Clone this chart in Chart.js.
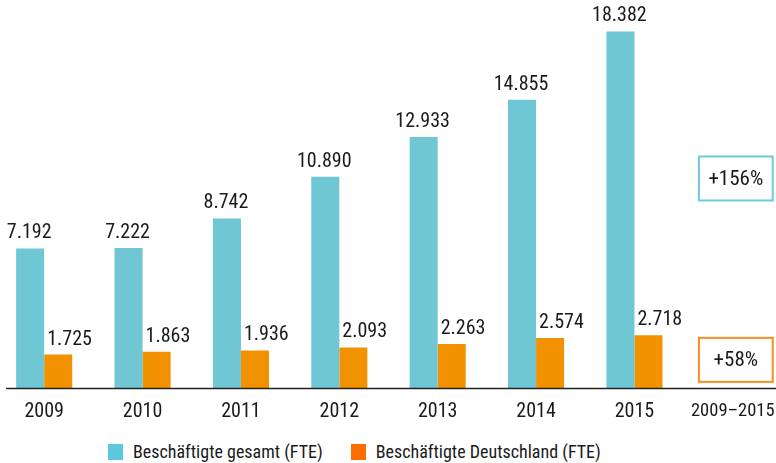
<!DOCTYPE html>
<html>
<head>
<meta charset="utf-8">
<script src="https://cdn.jsdelivr.net/npm/chart.js@4.4.1/dist/chart.umd.min.js"></script>
<style>
  html, body { margin: 0; padding: 0; background: #fff; overflow: hidden; }
  body { width: 776px; height: 463px; position: relative; font-family: "Roboto Condensed", sans-serif; }
  #chart { position: absolute; left: -5px; top: 0; }
  #legend { position: absolute; left: 108px; top: 441px; display: flex; flex-direction: row; margin: 0; padding: 0; list-style: none; }
</style>
</head>
<body>
<canvas id="chart" width="787" height="428"></canvas>
<ul id="legend"></ul>
<script>
const FONT = '"Roboto Condensed", sans-serif';

// data
const years = ['2009', '2010', '2011', '2012', '2013', '2014', '2015', '2009\u20132015'];
const gesamt = [7192, 7222, 8742, 10890, 12933, 14855, 18382, null];
const deutschland = [1725, 1863, 1936, 2093, 2263, 2574, 2718, null];
const seriesNames = ['Besch\u00e4ftigte gesamt (FTE)', 'Besch\u00e4ftigte Deutschland (FTE)'];
const growthLabels = ['+156%', '+58%'];

const teal = '#6ec7d3';
const orange = '#f39200';
const legendColours = ['#5cc8dc', '#ff6c00'];
const boxColours = ['#6acbdc', '#f7901e'];

function fmt(v) {
    return v.toLocaleString('de-DE');
}

// value labels above bars + growth boxes + baseline
const extras = {
    id: 'extras',
    afterDatasetsDraw(chart) {
        const ctx = chart.ctx;
        const x = chart.scales.x;
        const y = chart.scales.y;
        ctx.save();
        ctx.font = '20px ' + FONT;
        ctx.fillStyle = '#1a1a1a';
        ctx.textBaseline = 'bottom';
        chart.data.datasets.forEach((ds, di) => {
            chart.getDatasetMeta(di).data.forEach((bar, i) => {
                if (ds.data[i] == null) return;
                if (di === 0) {
                    ctx.textAlign = 'center';
                    ctx.fillText(fmt(ds.data[i]), bar.x - 1, bar.y - 5);
                } else {
                    ctx.textAlign = 'left';
                    ctx.fillText(fmt(ds.data[i]), bar.x - bar.width / 2 + 3, bar.y - 5);
                }
            });
        });

        // growth boxes in the last category
        const cx = x.getPixelForValue(years.length - 1);
        const catW = x.width / years.length;
        const bw = catW * 0.75;
        const bh = 44;
        const centres = [10800, 1450];
        ctx.font = '21px ' + FONT;
        growthLabels.forEach((txt, k) => {
            const cy = y.getPixelForValue(centres[k]);
            ctx.strokeStyle = boxColours[k];
            ctx.lineWidth = 2;
            ctx.strokeRect(cx - bw / 2 + 3, cy - bh / 2, bw, bh);
            ctx.textAlign = 'center';
            ctx.textBaseline = 'middle';
            ctx.fillText(txt, cx + 3, cy + 1);
        });

        // baseline
        const y0 = Math.round(y.getPixelForValue(0)) + 0.5;
        const firstBar = chart.getDatasetMeta(0).data[0];
        ctx.strokeStyle = '#222';
        ctx.lineWidth = 1.3;
        ctx.beginPath();
        ctx.moveTo(firstBar.x - firstBar.width / 2 - 10, y0);
        ctx.lineTo(chart.width, y0);
        ctx.stroke();
        ctx.restore();
    }
};

function drawChart() {
    new Chart(document.getElementById('chart'), {
        type: 'bar',
        data: {
            labels: years,
            datasets: [
                { label: seriesNames[0], data: gesamt, backgroundColor: teal, borderWidth: 0 },
                { label: seriesNames[1], data: deutschland, backgroundColor: orange, borderWidth: 0 }
            ]
        },
        options: {
            responsive: false,
            animation: false,
            layout: { padding: 0 },
            datasets: { bar: { categoryPercentage: 0.57, barPercentage: 1.0 } },
            plugins: {
                legend: { display: false },
                tooltip: { enabled: false }
            },
            scales: {
                x: {
                    grid: { display: false, drawTicks: false },
                    border: { display: false },
                    ticks: {
                        color: '#1a1a1a',
                        // the long range label is a touch smaller so it stays on the page
                        font: (c) => ({ family: FONT, size: c.index === years.length - 1 ? 18.5 : 20 }),
                        padding: 12,
                        maxRotation: 0,
                        autoSkip: false
                    },
                    afterFit: (s) => {
                        s.height = 40;
                        // labels fit inside their category, no extra side padding
                        s.paddingLeft = 0;
                        s.paddingRight = 0;
                    }
                },
                y: {
                    display: false,
                    min: 0,
                    max: 20000
                }
            }
        },
        plugins: [extras]
    });
}

function printLegend() {
    const legend = document.getElementById('legend');
    seriesNames.forEach((name, i) => {
        const li = document.createElement('li');
        li.style.display = 'flex';
        li.style.alignItems = 'center';
        li.style.marginRight = i === 0 ? '28px' : '0';

        const box = document.createElement('span');
        box.style.display = 'inline-block';
        box.style.width = '15px';
        box.style.height = '16px';
        box.style.background = legendColours[i];
        box.style.marginRight = '10px';

        const text = document.createElement('span');
        text.style.font = '18px ' + FONT;
        text.style.color = '#1a1a1a';
        text.textContent = name;

        li.appendChild(box);
        li.appendChild(text);
        legend.appendChild(li);
    });
}
printLegend();

// canvas only picks the font up once it is loaded
document.fonts.load('20px "Roboto Condensed"').then(drawChart, drawChart);
</script>
</body>
</html>
